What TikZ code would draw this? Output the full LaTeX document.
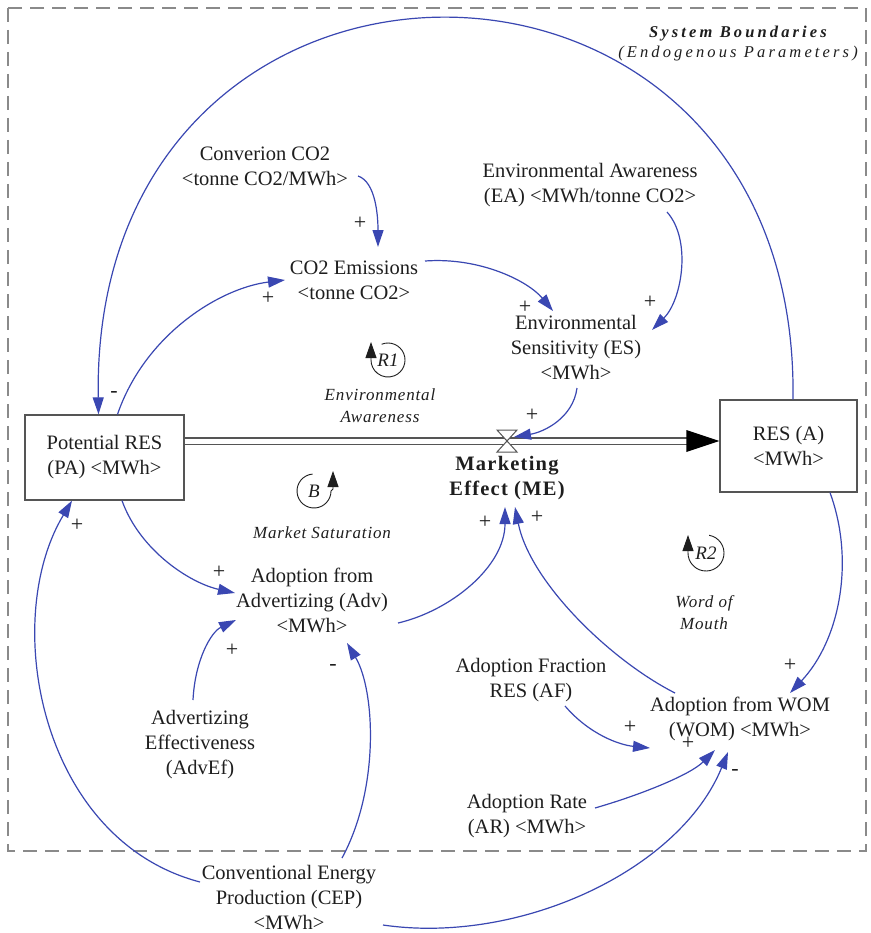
\documentclass[tikz,border=0pt]{standalone}
\usepackage{fontspec}
\setmainfont{Liberation Serif}
\newfontfamily\loopfont[LetterSpace=5]{Liberation Serif}
\newfontfamily\boundfont[LetterSpace=19]{Liberation Serif}
\newfontfamily\mefont[LetterSpace=6]{Liberation Serif}
\usetikzlibrary{arrows.meta,calc}

\definecolor{linkblue}{HTML}{3A47B2}
\definecolor{boxgray}{HTML}{555555}
\definecolor{ink}{HTML}{1E1E1E}
\definecolor{boundgray}{HTML}{8A8A8A}

\begin{document}
\begin{tikzpicture}[x=1pt,y=-1pt,
  var/.style={align=center, inner sep=1pt, text=ink, font=\fontsize{20.5}{25}\selectfont},
  stock/.style={draw=boxgray, line width=1.3pt, fill=white, align=center, text=ink,
                font=\fontsize{20.5}{25}\selectfont},
  link/.style={draw=linkblue, line width=1.2pt, -{Triangle[length=17pt,width=11pt]}},
  pipe/.style={draw=boxgray, line width=1.3pt, double=white, double distance=5pt},
  pol/.style={font=\fontsize{22}{22}\selectfont, inner sep=0pt, text=ink},
  looplbl/.style={align=center, text=ink, font=\loopfont\itshape\fontsize{17}{22}\selectfont},
  loopname/.style={align=center, text=ink, font=\itshape\fontsize{19}{19}\selectfont},
  loopring/.style={draw=ink, line width=0.9pt, -{Triangle[length=16pt,width=11pt]}},
]
\useasboundingbox (0,0) rectangle (870,933);
\fill[white] (0,0) rectangle (870,933);

% system boundary
\draw[boundgray, line width=1.8pt, dash pattern=on 14pt off 8pt] (8,8) rectangle (866,851);
\node[align=center, text=ink, font=\boundfont\fontsize{16.5}{20}\selectfont] (boundary) at (738,44)
  {\bfseries\itshape System Boundaries\\\itshape (Endogenous Parameters)};

% stocks
\node[stock, minimum width=159pt, minimum height=85pt] (pa) at (104.5,457.5) {Potential RES\\(PA) <MWh>};
\node[stock, minimum width=137pt, minimum height=92pt] (resa) at (788.5,446) {RES (A)\\<MWh>};

% flow with valve
\coordinate (valve) at (507,441);
\draw[pipe] (pa.east |- valve) -- ($(resa.west |- valve)+(-31,0)$);
\fill[black] ($(resa.west |- valve)+(-33,-11)$) -- (resa.west |- valve) -- ($(resa.west |- valve)+(-33,11)$) -- cycle;
\filldraw[fill=white, draw=boxgray, line width=1pt]
  ($(valve)+(-10,-11)$) -- ($(valve)+(10,-11)$) -- ($(valve)+(-10,11)$) -- ($(valve)+(10,11)$) -- cycle;
\node[align=center, text=ink, inner sep=1pt, font=\mefont\bfseries\fontsize{20.5}{25}\selectfont] (me) at (507,478)
  {Marketing\\Effect (ME)};

% auxiliary variables
\node[var] (conv)  at (265,166) {Converion CO2\\<tonne CO2/MWh>};
\node[var] (co2)   at (354,280) {CO2 Emissions\\<tonne CO2>};
\node[var] (ea)    at (590,185) {Environmental Awareness\\(EA) <MWh/tonne CO2>};
\node[var] (es)    at (576,348) {Environmental\\Sensitivity (ES)\\<MWh>};
\node[var] (adv)   at (312,600) {Adoption from\\Advertizing (Adv)\\<MWh>};
\node[var] (advef) at (200,745) {Advertizing\\Effectiveness\\(AdvEf)};
\node[var] (af)    at (531,680) {Adoption Fraction\\RES (AF)};
\node[var] (ar)    at (527,816) {Adoption Rate\\(AR) <MWh>};
\node[var] (wom)   at (740,719) {Adoption from WOM\\(WOM) <MWh>};
\node[var] (cep)   at (289,898) {Conventional Energy\\Production (CEP)\\<MWh>};

% causal links
\draw[link] ($(resa.north)+(4.5,0)$) .. controls (800,-110) and (90,-110) .. ($(pa.north)+(-6,0)$);
\draw[link] ($(pa.north)+(13,0)$) .. controls +(27.5,-80) and +(-65,8) .. ($(co2)+(-69,0)$);
\draw[link] ($(conv)+(93,10)$) .. controls +(18,6) and +(0,-30) .. ($(co2)+(24,-33)$);
\draw[link] ($(co2)+(71,-19)$) .. controls +(55,-4) and +(-25,-30) .. ($(es)+(-23,-37)$);
\draw[link] ($(ea)+(77,27)$) .. controls +(25,28) and +(30,-30) .. ($(es)+(76,-18)$);
\draw[link] ($(es)+(1,40)$) .. controls +(-4,30) and +(30,-5) .. ($(valve)+(7,-4)$);
\draw[link] ($(adv)+(86,23)$) .. controls +(52,-12) and +(0,60) .. ($(me)+(-2,29)$);
\draw[link] ($(wom)+(-65,-26)$) .. controls +(-65,-33) and +(15,75) .. ($(me)+(8,29)$);
\draw[link] ($(pa.south)+(17.5,0)$) .. controls +(18,50) and +(-45,-10) .. ($(adv)+(-77,-7)$);
\draw[link] ($(advef)+(-7,-45)$) .. controls +(2,-40) and +(-25,12) .. ($(adv)+(-76,20)$);
\draw[link] ($(cep)+(53,-40)$) .. controls +(38,-70) and +(28,47) .. ($(adv)+(35,43)$);
\draw[link] ($(cep)+(-89,-16)$) .. controls +(-160,-42) and +(-72,120) .. ($(pa.south)+(-32.5,0)$);
\draw[link] ($(cep)+(94,27)$) .. controls +(137,20) and +(-48,118) .. ($(wom)+(-12,33)$);
\draw[link] ($(ar)+(68,-8)$) .. controls +(45,-13) and +(-25,25) .. ($(wom)+(-25,31)$);
\draw[link] ($(af)+(34,26)$) .. controls +(25,29) and +(-30,-3) .. ($(wom)+(-90,29)$);
\draw[link] ($(resa.south)+(41.5,0)$) .. controls +(25,68) and +(50,-53) .. ($(wom)+(50,-26)$);

% link polarities
\node[pol] (s1)  at (114,394) {-};
\node[pol] (s2)  at (268,298) {+};
\node[pol] (s3)  at (360,223) {+};
\node[pol] (s4)  at (525,307) {+};
\node[pol] (s5)  at (650,302) {+};
\node[pol] (s6)  at (532,415) {+};
\node[pol] (s7)  at (485,522) {+};
\node[pol] (s8)  at (537,517) {+};
\node[pol] (s9)  at (219,572) {+};
\node[pol] (s10) at (232,650) {+};
\node[pol] (s11) at (333,667) {-};
\node[pol] (s12) at (77,525)  {+};
\node[pol] (s13) at (735,772) {-};
\node[pol] (s14) at (688,743) {+};
\node[pol] (s15) at (630,727) {+};
\node[pol] (s16) at (790,665) {+};

% loop markers
\coordinate (r1c) at (388,360);
\draw[loopring] ($(r1c)+({17*cos(-112)},{17*sin(-112)})$) arc[start angle=-112, end angle=180, radius=17] -- ++(0,-18);
\node[loopname] (r1) at (r1c) {R1};
\node[looplbl] (r1name) at (380,406) {Environmental\\Awareness};

\coordinate (bc) at (314,491);
\draw[loopring] ($(bc)+({17*cos(-95)},{17*sin(-95)})$) arc[start angle=-95, end angle=-360, radius=17] -- ++(2,-2) -- ++(0,-18);
\node[loopname] (b) at (bc) {B};
\node[looplbl] (bname) at (322,533) {Market Saturation};

\coordinate (r2c) at (706,553);
\draw[loopring] ($(r2c)+({18*cos(-80)},{18*sin(-80)})$) arc[start angle=-80, end angle=180, radius=18] -- ++(0,-18);
\node[loopname] (r2) at (r2c) {R2};
\node[looplbl] (r2name) at (704,613) {Word of\\Mouth};
\end{tikzpicture}
\end{document}
